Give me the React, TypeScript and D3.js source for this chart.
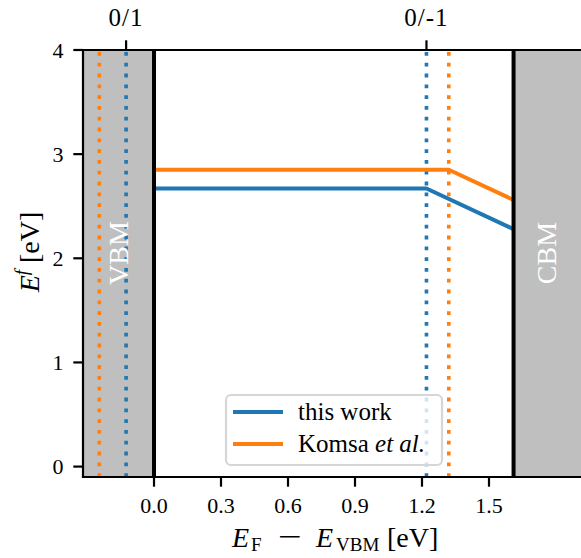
import React from 'react';
import * as d3 from 'd3';

// formation energy data (eV)
const seriesNames = ['this work', 'Komsa'];
const seriesColors = ['#1f77b4', '#ff7f0e'];
const neutralEnergy = [2.67, 2.85];
const level0p1 = [-0.125, -0.245];   // 0/+1 transition levels
const level0m1 = [1.22, 1.32];       // 0/-1 transition levels
const bandGap = 1.61;
const xTicks = [0, 0.3, 0.6, 0.9, 1.2, 1.5];
const yTicks = [0, 1, 2, 3, 4];
const topTickLabels = ['0/1', '0/-1'];

const W = 581;
const H = 558;
const font = '"Liberation Serif", "Times New Roman", serif';
const tickFs = 22;
const labelFs = 28;
const legendFs = 25;
const lw = 4;        // 1.5pt lines
const axW = 2.2;     // 0.8pt spines / ticks
const tickLen = 9.7;

const App = () => {
    var left = 83, right = 581, top = 50, bottom = 477;

    var x = d3.scaleLinear().domain([-0.318, 1.912]).range([left, right]);
    var y = d3.scaleLinear().domain([-0.1, 4]).range([bottom, top]);

    var line = d3.line<number[]>()
        .x(d => x(d[0]))
        .y(d => y(d[1]));

    // neutral flat up to the 0/-1 level, then slope -1 up to the CBM
    var curves = neutralEnergy.map((e0, i) => [
        [0, e0],
        [level0m1[i], e0],
        [bandGap, e0 - (bandGap - level0m1[i])],
    ]);

    // dotted transition level markers
    var dotted: { v: number, c: string }[] = [];
    neutralEnergy.forEach((_, i) => {
        dotted.push({ v: level0p1[i], c: seriesColors[i] });
        dotted.push({ v: level0m1[i], c: seriesColors[i] });
    });

    var topTicks = [level0p1[0], level0m1[0]];

    var lg = { x: 226, y: 395, w: 216, h: 70 };

    return (
        <svg width={W} height={H} style={{ position: 'absolute', left: 0, top: 0 }}
            fontFamily={font} fontSize={tickFs}>
            <defs>
                <clipPath id="plotclip">
                    <rect x={left} y={top} width={right - left} height={bottom - top} />
                </clipPath>
            </defs>
            <rect x={0} y={0} width={W} height={H} fill="white" />
            <g clipPath="url(#plotclip)">
                {/* valence / conduction band regions */}
                <rect x={left} y={top} width={x(0) - left} height={bottom - top} fill="#bfbfbf" />
                <rect x={x(bandGap)} y={top} width={right - x(bandGap)} height={bottom - top} fill="#bfbfbf" />
                {dotted.map((d, i) => (
                    <line key={'d' + i} x1={x(d.v)} x2={x(d.v)} y1={bottom} y2={top}
                        stroke={d.c} strokeWidth={3.6} strokeDasharray="3.8 7" />
                ))}
                {curves.map((c, i) => (
                    <path key={'c' + i} d={line(c) || ''} fill="none" stroke={seriesColors[i]}
                        strokeWidth={lw} strokeLinejoin="round" />
                ))}
                <line x1={x(0)} x2={x(0)} y1={top} y2={bottom} stroke="black" strokeWidth={lw} />
                <line x1={x(bandGap)} x2={x(bandGap)} y1={top} y2={bottom} stroke="black" strokeWidth={lw} />
                <text transform={`translate(${(left + x(0)) / 2 + 9},${y(2.05)}) rotate(-90)`}
                    textAnchor="middle" fill="white" fontSize={labelFs}>VBM</text>
                <text transform={`translate(${(x(bandGap) + right) / 2 + 9},${y(2.05)}) rotate(-90)`}
                    textAnchor="middle" fill="white" fontSize={labelFs}>CBM</text>
            </g>

            {/* frame */}
            <line x1={left} x2={left} y1={top} y2={bottom} stroke="black" strokeWidth={axW} />
            <line x1={left - axW / 2} x2={right} y1={bottom} y2={bottom} stroke="black" strokeWidth={axW} />
            <line x1={left - axW / 2} x2={right} y1={top} y2={top} stroke="black" strokeWidth={axW} />

            {/* bottom axis */}
            {xTicks.map(t => (
                <g key={'x' + t}>
                    <line x1={x(t)} x2={x(t)} y1={bottom} y2={bottom + tickLen} stroke="black" strokeWidth={axW} />
                    <text x={x(t)} y={513} textAnchor="middle">{t.toFixed(1)}</text>
                </g>
            ))}
            {/* left axis */}
            {yTicks.map(t => (
                <g key={'y' + t}>
                    <line x1={left - tickLen} x2={left} y1={y(t)} y2={y(t)} stroke="black" strokeWidth={axW} />
                    <text x={left - 2 * tickLen} y={y(t) + 7.5} textAnchor="end">{t}</text>
                </g>
            ))}
            {/* top axis: transition levels */}
            {topTicks.map((t, i) => (
                <g key={'t' + i}>
                    <line x1={x(t)} x2={x(t)} y1={top - tickLen} y2={top} stroke="black" strokeWidth={axW} />
                    <text x={x(t)} y={26} textAnchor="middle" fontSize={25} letterSpacing={1}>{topTickLabels[i]}</text>
                </g>
            ))}

            {/* axis labels */}
            <text y={547} fontSize={labelFs}>
                <tspan x={232} fontStyle="italic">E</tspan>
                <tspan x={251} dy={4} fontSize={19}>F</tspan>
                <tspan x={316} dy={-4} fontStyle="italic">E</tspan>
                <tspan x={336} dy={4} fontSize={19}>VBM</tspan>
                <tspan x={387} dy={-4}>[eV]</tspan>
            </text>
            <text transform="translate(290,546) scale(1.5,1)" textAnchor="middle" fontSize={labelFs}>−</text>
            <text transform={`translate(39,252) rotate(-90)`} textAnchor="middle" fontSize={labelFs}>
                <tspan fontStyle="italic">E</tspan>
                <tspan fontStyle="italic" fontSize={19} dy={-11}>f</tspan>
                <tspan dy={11}>{' [eV]'}</tspan>
            </text>

            {/* legend */}
            <rect x={lg.x} y={lg.y} width={lg.w} height={lg.h} rx={5} fill="white" fillOpacity={0.8}
                stroke="#d6d6d6" strokeWidth={axW} />
            {seriesNames.map((s, i) => (
                <g key={'l' + i}>
                    <line x1={lg.x + 7} x2={lg.x + 57} y1={lg.y + 17 + i * 32} y2={lg.y + 17 + i * 32}
                        stroke={seriesColors[i]} strokeWidth={lw} />
                    <text x={lg.x + 72} y={lg.y + 25 + i * 32} fontSize={legendFs}>
                        {s}
                        {i === 1 ? <tspan fontStyle="italic"> et al.</tspan> : null}
                    </text>
                </g>
            ))}
        </svg>
    );
};

export default App;
